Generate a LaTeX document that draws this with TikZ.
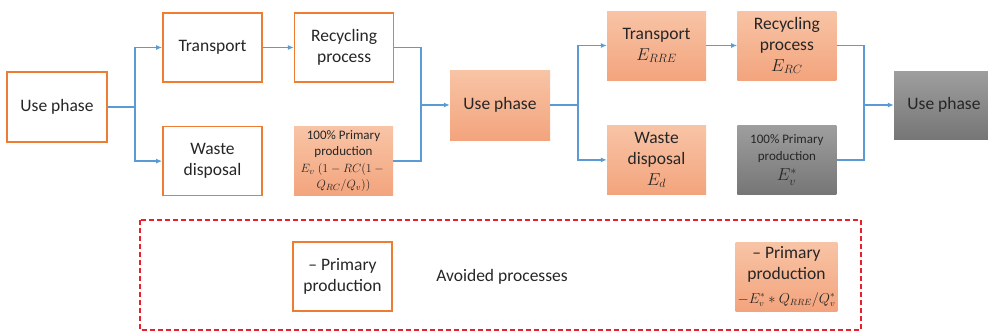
\documentclass[tikz,border=0pt]{standalone}
\usepackage{fontspec}
\setmainfont{Carlito}
\usepackage{xcolor}
\definecolor{BoxOrange}{HTML}{ED7D31}
\definecolor{SalmonTop}{HTML}{F8C4A6}
\definecolor{SalmonBot}{HTML}{F3A47D}
\definecolor{GrayTop}{HTML}{9E9E9E}
\definecolor{GrayBot}{HTML}{767676}
\definecolor{FlowBlue}{HTML}{5B9BD5}
\definecolor{FrameRed}{HTML}{E8202A}
\definecolor{InkGray}{HTML}{262626}
\usetikzlibrary{arrows.meta,positioning}
\usepackage{amsmath,amssymb}

\begin{document}
\begin{tikzpicture}[x=1pt, y=-1pt, node distance=31pt, >={Latex[length=6pt,width=5pt]}, every node/.style={font=\fontsize{17.5}{21}\selectfont, align=center, text=InkGray}, procbox/.style={minimum width=99pt, minimum height=69pt, inner sep=2pt}, openbox/.style={procbox, draw=BoxOrange, line width=1.6pt, fill=white}, salmonbox/.style={procbox, top color=SalmonTop, bottom color=SalmonBot}, graybox/.style={procbox, top color=GrayTop, bottom color=GrayBot}, smalltext/.style={font=\fontsize{13}{16.5}\selectfont}, flow/.style={draw=FlowBlue, line width=1.6pt}]
    \useasboundingbox (0,0) rectangle (988,332);

    % first life cycle
    \node[openbox, minimum width=100pt, minimum height=70pt] (use1) at (57,107) {Use phase};
    \node[openbox] (trans1) at (212.5,47.5) {Transport};
    \node[openbox, below=43pt of trans1] (waste1) {Waste\\disposal};
    \node[openbox, right=of trans1] (recyc1) {Recycling\\process};
    \node[salmonbox, smalltext, right=of waste1] (prim1) {100\% Primary\\production\\$E_v\;(1-RC(1-{}$\\$Q_{RC}/Q_v))$};

    % second life cycle
    \node[salmonbox, minimum width=100pt, minimum height=70pt] (use2) at (500,105) {Use phase};
    \node[salmonbox] (trans2) at (656.5,45.5) {Transport\\$E_{RRE}$};
    \node[salmonbox, below=45pt of trans2] (waste2) {Waste\\disposal\\$E_d$};
    \node[salmonbox, right=of trans2] (recyc2) {Recycling\\process\\$E_{RC}$};
    \node[graybox, smalltext, right=of waste2] (prim2) {100\% Primary\\production\\[4pt]{\fontsize{17.5}{21}\selectfont$E_v^*$}};
    \node[graybox, minimum width=100pt, minimum height=68pt] (use3) at (944,105) {Use phase};

    % avoided processes
    \draw[FrameRed, line width=1.4pt, dash pattern=on 5pt off 3pt] (140,220) rectangle (861,330);
    \node[openbox] (avoid1) at (342.5,276.5) {-- Primary\\production};
    \node (avoidlabel) at (502,277) {Avoided processes};
    \node[salmonbox] (avoid2) at (786.5,276.5) {-- Primary\\production\\[3pt]{\fontsize{13.5}{16}\selectfont$-E_v^*\ast Q_{RRE}/Q_v^*$}};

    % junctions
    \coordinate (j1) at (135,107);
    \coordinate (j2) at (421,105);
    \coordinate (j3) at (578,105);
    \coordinate (j4) at (864,105);

    \draw[flow] (use1.east) -- (j1);
    \draw[flow, ->] (j1) |- (trans1.west);
    \draw[flow, ->] (j1) |- (waste1.west);
    \draw[flow, ->] (trans1) -- (recyc1);
    \draw[flow] (recyc1.east) -| (j2);
    \draw[flow] (prim1.east) -| (j2);
    \draw[flow, ->] (j2) -- (use2.west);
    \draw[flow] (use2.east) -- (j3);
    \draw[flow, ->] (j3) |- (trans2.west);
    \draw[flow, ->] (j3) |- (waste2.west);
    \draw[flow, ->] (trans2) -- (recyc2);
    \draw[flow] (recyc2.east) -| (j4);
    \draw[flow] (prim2.east) -| (j4);
    \draw[flow, ->] (j4) -- (use3.west);
\end{tikzpicture}
\end{document}
